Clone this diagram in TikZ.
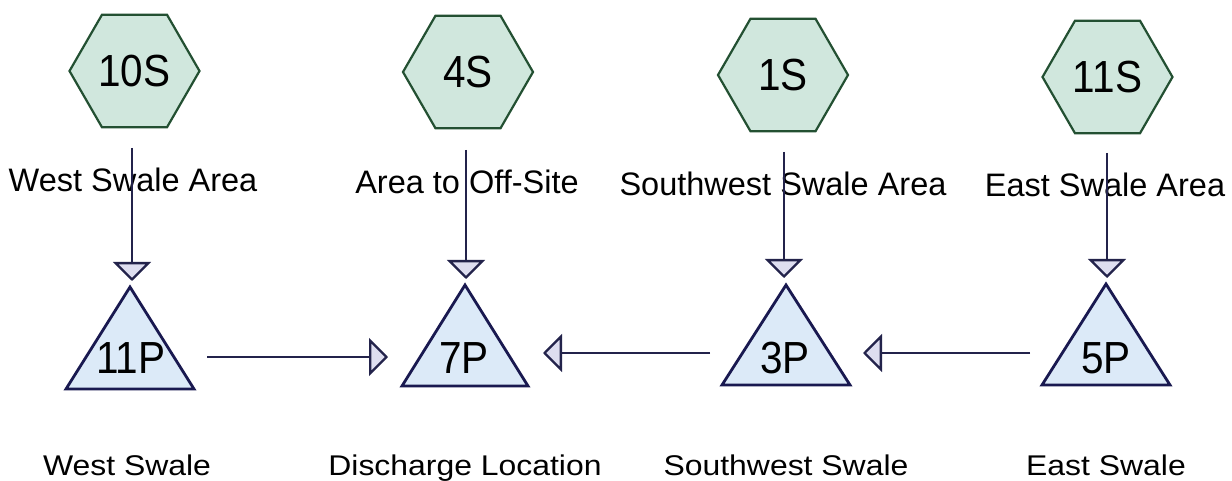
\documentclass[tikz,border=0pt]{standalone}
\usepackage{fontspec}
\setmainfont{Liberation Sans}
\newfontfamily\idfont[FakeStretch=0.9]{Liberation Sans}
\newfontfamily\botfont[FakeStretch=1.12]{Liberation Sans}
\usetikzlibrary{shapes.geometric,arrows.meta}
\definecolor{hexfill}{RGB}{208,231,221}
\definecolor{hexdraw}{RGB}{35,80,50}
\definecolor{trifill}{RGB}{220,234,248}
\definecolor{tridraw}{RGB}{25,25,80}
\definecolor{tipfill}{RGB}{222,222,240}
\definecolor{flow}{RGB}{35,35,75}
\begin{document}
\begin{tikzpicture}[x=1pt,y=-1pt,
  hexnode/.style={regular polygon, regular polygon sides=6, minimum size=130pt,
    inner sep=0pt, draw=hexdraw, fill=hexfill, line width=2.2pt,
    font=\idfont\fontsize{45}{45}\selectfont},
  tri/.style={draw=tridraw, fill=trifill, line width=2.8pt, line join=miter},
  idlabel/.style={font=\idfont\fontsize{45}{45}\selectfont, inner sep=0pt},
  toplabel/.style={font=\fontsize{32.5}{34}\selectfont, inner sep=0pt, anchor=base},
  botlabel/.style={font=\botfont\fontsize{28.5}{30}\selectfont, inner sep=0pt, anchor=base},
  flowarrow/.style={draw=flow, line width=2.3pt,
    -{Triangle[width=38pt,length=19pt,fill=tipfill]}}]
\fill[white] (0,0) rectangle (1232,481);
\useasboundingbox (0,0) rectangle (1232,481);

% hexagons (subcatchments)
\node[hexnode] (s10) at (134.5,71) {10S};
\node[hexnode] (s4)  at (468,72)   {4S};
\node[hexnode] (s1)  at (783,75)   {1S};
\node[hexnode] (s11) at (1107.5,77) {11S};

% subcatchment labels
\node[toplabel] (l10) at (133,192) {West Swale Area};
\node[toplabel] (l4)  at (467,194) {Area to Off-Site};
\node[toplabel] (l1)  at (783,196) {Southwest Swale Area};
\node[toplabel] (l11) at (1105,197) {East Swale Area};

% triangles (ponds)
\path[tri] (66,389) -- (130,287) -- (194,389) -- cycle;
\path[tri] (402,386) -- (465,285) -- (528,386) -- cycle;
\path[tri] (722,385) -- (786,285) -- (850,385) -- cycle;
\path[tri] (1042,385) -- (1106,284) -- (1170,385) -- cycle;
\node[idlabel] (p11) at (131,358) {11P};
\node[idlabel] (p7)  at (464,358) {7P};
\node[idlabel] (p3)  at (785,358) {3P};
\node[idlabel] (p5)  at (1106,358) {5P};

% pond labels
\node[botlabel] (b11) at (127,475) {West Swale};
\node[botlabel] (b7)  at (465,475) {Discharge Location};
\node[botlabel] (b3)  at (786,475) {Southwest Swale};
\node[botlabel] (b5)  at (1106,475) {East Swale};

% connector end points
\coordinate (v10a) at (132,148);  \coordinate (v10b) at (132,281);
\coordinate (v4a)  at (466,150);  \coordinate (v4b)  at (466,279);
\coordinate (v1a)  at (784,152);  \coordinate (v1b)  at (784,278);
\coordinate (v11a) at (1107,153); \coordinate (v11b) at (1107,278);
\coordinate (h1a) at (207,357);  \coordinate (h1b) at (388,357);
\coordinate (h2a) at (710,353);  \coordinate (h2b) at (543,353);
\coordinate (h3a) at (1030,353); \coordinate (h3b) at (863,353);

\draw[flowarrow] (v10a) -- (v10b);
\draw[flowarrow] (v4a) -- (v4b);
\draw[flowarrow] (v1a) -- (v1b);
\draw[flowarrow] (v11a) -- (v11b);
\draw[flowarrow] (h1a) -- (h1b);
\draw[flowarrow] (h2a) -- (h2b);
\draw[flowarrow] (h3a) -- (h3b);
\end{tikzpicture}
\end{document}
